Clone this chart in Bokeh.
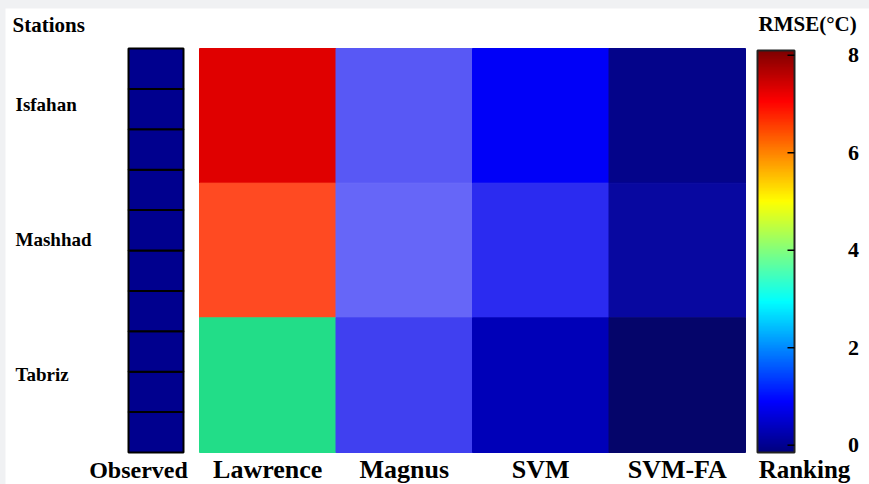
import numpy as np
from bokeh.plotting import figure
from bokeh.models import ColumnDataSource, Range1d, LinearColorMapper
from bokeh.core.properties import value
from bokeh.embed import file_html
from bokeh.resources import INLINE

# ---------------- data ----------------
stations = ["Isfahan", "Mashhad", "Tabriz"]
models = ["Lawrence", "Magnus", "SVM", "SVM-FA"]
rmse_lawrence = [7.5, 6.5, 3.9]
rmse_magnus = [1.6, 1.8, 1.4]
rmse_svm = [1.0, 1.2, 0.6]
rmse_svmfa = [0.3, 0.45, 0.15]
color_lawrence = ["#e00000", "#ff4a22", "#22dd88"]
color_magnus = ["#5858f5", "#6666f8", "#4040f0"]
color_svm = ["#0000f8", "#2b2bf0", "#0000b8"]
color_svmfa = ["#04048a", "#0808a0", "#05056a"]
observed = [0, 0, 0, 0, 0, 0, 0, 0, 0, 0]
observed_color = "#00008e"
cbar_ticks = [0, 2, 4, 6, 8]
cbar_low, cbar_high = -0.15, 8.1
y_title = "Stations"
cbar_title = "RMSE(°C)"
obs_label = "Observed"
cbar_label = "Ranking"

FONT = "Liberation Serif"

# ---------------- layout constants (canvas pixels) ----------------
W, H = 864, 476
HEAT_L, HEAT_R = 194, 740
HEAT_T, HEAT_B = 40, 444
PX_COL = (HEAT_R - HEAT_L) / len(models)
PX_ROW = (HEAT_B - HEAT_T) / len(stations)
OBS_L, OBS_R = 123, 178
CB_L, CB_R, CB_T, CB_B = 752, 789, 42, 444
CB_PX = (CB_B - CB_T) / (cbar_high - cbar_low)
BASE_FIX = 8  # alphabetic baseline correction (px)


def px2x(cx):
    return (cx - HEAT_L) / PX_COL


def px2y(cy):
    return (HEAT_B - cy) / PX_ROW


# jet palette for the colour bar
def jet(t):
    r = np.clip(1.5 - abs(4 * t - 3), 0, 1)
    g = np.clip(1.5 - abs(4 * t - 2), 0, 1)
    b = np.clip(1.5 - abs(4 * t - 1), 0, 1)
    return "#%02x%02x%02x" % (int(r * 255), int(g * 255), int(b * 255))


jet256 = [jet(t) for t in np.linspace(0, 1, 256)]

p = figure(width=W, height=H, x_range=Range1d(px2x(0), px2x(W)),
           y_range=Range1d(px2y(H), px2y(0)), x_axis_type=None, y_axis_type=None,
           toolbar_location=None, output_backend="svg", title=None,
           min_border=0, min_border_left=0, min_border_right=0,
           min_border_top=0, min_border_bottom=0, outline_line_color=None,
           background_fill_color="white", border_fill_color="white")
p.margin = (8, 0, 0, 5)
p.grid.visible = False
p.extra_y_ranges = {"cbar": Range1d(cbar_low - (H - CB_B) / CB_PX,
                                    cbar_low + CB_B / CB_PX)}

# ---------------- heat map ----------------
n_st = len(stations)
lefts, bottoms, cols, vals = [], [], [], []
for j, (vv, cc) in enumerate(zip([rmse_lawrence, rmse_magnus, rmse_svm, rmse_svmfa],
                                 [color_lawrence, color_magnus, color_svm, color_svmfa])):
    for i, (v, c) in enumerate(zip(vv, cc)):
        lefts.append(j)
        bottoms.append(n_st - 1 - i)
        cols.append(c)
        vals.append(v)
src = ColumnDataSource(dict(left=lefts, right=[l + 1 for l in lefts], bottom=bottoms,
                            top=[b + 1 for b in bottoms], color=cols, rmse=vals))
p.quad(left="left", right="right", bottom="bottom", top="top", source=src,
       fill_color="color", line_color="color", line_width=1)

# ---------------- observed column ----------------
n_obs = len(observed)
cell_h = n_st / n_obs
obs_src = ColumnDataSource(dict(
    bottom=[k * cell_h for k in range(n_obs)],
    top=[(k + 1) * cell_h for k in range(n_obs)],
    val=observed))
p.quad(left=px2x(OBS_L), right=px2x(OBS_R), bottom="bottom", top="top", source=obs_src,
       fill_color=observed_color, line_color="black", line_width=2)

# ---------------- colour bar ----------------
grad = np.linspace(cbar_low, cbar_high, 256).reshape(-1, 1)
p.image(image=[grad], x=px2x(CB_L), y=cbar_low, dw=px2x(CB_R) - px2x(CB_L),
        dh=cbar_high - cbar_low, y_range_name="cbar",
        color_mapper=LinearColorMapper(palette=jet256, low=cbar_low, high=cbar_high))
p.quad(left=px2x(CB_L), right=px2x(CB_R), bottom=cbar_low, top=cbar_high,
       y_range_name="cbar", fill_color=None, line_color="#222222", line_width=2)
p.segment(x0=px2x(CB_R - 7), x1=px2x(CB_R), y0=cbar_ticks, y1=cbar_ticks,
          y_range_name="cbar", line_color="black", line_width=1.5)
p.text(x=px2x(848), y=cbar_ticks, text=[str(t) for t in cbar_ticks], y_range_name="cbar",
       text_font=value(FONT), text_font_style="bold", text_font_size="22px",
       text_align="center", text_baseline="middle", text_color="black")

# ---------------- texts ----------------
def txt(x, y, s, size, align="left"):
    p.text(x=[x], y=[y], text=[s], text_font=value(FONT), text_font_style="bold",
           text_font_size=size, text_align=align, text_baseline="alphabetic",
           text_color="black")


txt(px2x(7), px2y(24 - BASE_FIX), y_title, "21px")
txt(px2x(753), px2y(23 - BASE_FIX), cbar_title, "21px")
for i, st in enumerate(stations):
    txt(px2x(10), n_st - i - 0.5 + 11 / PX_ROW, st, "19px")
base = px2y(469 - BASE_FIX)
p.text(x=[j + 0.5 for j in range(len(models))], y=[base] * len(models), text=models,
       text_font=value(FONT), text_font_style="bold", text_font_size="26px",
       text_align="center", text_baseline="alphabetic", text_color="black")
txt(px2x(133), base, obs_label, "24px", "center")
txt(px2x(799), base, cbar_label, "25px", "center")

html = file_html(p, INLINE)
html = html.replace("</head>", "<style>body{background:#f0f1f3;}</style></head>", 1)
open("out.html", "w").write(html)
